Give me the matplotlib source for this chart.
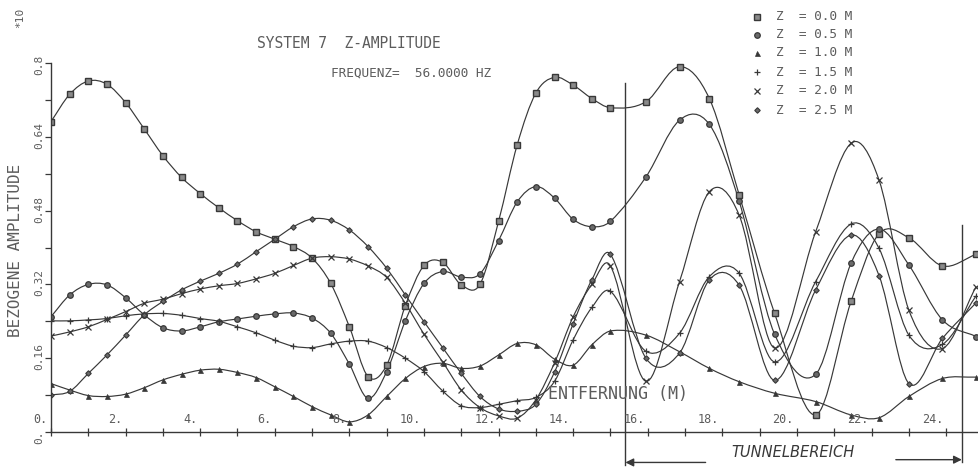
import matplotlib
matplotlib.use('Agg')
import matplotlib.pyplot as plt
import numpy as np
from matplotlib.path import Path
from matplotlib.patches import PathPatch
from matplotlib.lines import Line2D

INK = '#383838'
TXT = '#5c5c5c'
MONO = 'DejaVu Sans Mono'

W, H = 979, 468

# measuring positions along the track (m)
x_pos = [0.0, 0.5, 1.0, 1.5, 2.0, 2.5, 3.0, 3.5, 4.0, 4.5, 5.0, 5.5, 6.0, 6.5,
         7.0, 7.5, 8.0, 8.5, 9.0, 9.5, 10.0, 10.5, 11.0, 11.5, 12.0, 12.5,
         13.0, 13.5, 14.0, 14.5, 15.0,
         15.95, 16.85, 17.65, 18.45, 19.4, 20.5, 21.45, 22.2, 23.0, 23.9, 24.8]

amp_z00 = [0.673, 0.732, 0.761, 0.754, 0.714, 0.657, 0.599, 0.552, 0.517, 0.486,
           0.458, 0.434, 0.418, 0.402, 0.377, 0.322, 0.228, 0.120, 0.145, 0.274,
           0.361, 0.368, 0.319, 0.320, 0.457, 0.623, 0.735, 0.769, 0.752, 0.723,
           0.703,
           0.716, 0.792, 0.723, 0.514, 0.257, 0.037, 0.283, 0.430, 0.421, 0.360, 0.385]
amp_z05 = [0.250, 0.297, 0.320, 0.319, 0.291, 0.254, 0.226, 0.219, 0.228, 0.239,
           0.245, 0.251, 0.256, 0.258, 0.247, 0.214, 0.147, 0.073, 0.131, 0.241,
           0.322, 0.348, 0.336, 0.343, 0.415, 0.499, 0.532, 0.507, 0.461, 0.445,
           0.457,
           0.553, 0.676, 0.667, 0.500, 0.212, 0.125, 0.366, 0.440, 0.362, 0.243, 0.207]
amp_z10 = [0.105, 0.091, 0.079, 0.077, 0.082, 0.096, 0.113, 0.125, 0.134, 0.136,
           0.129, 0.118, 0.098, 0.077, 0.055, 0.037, 0.022, 0.037, 0.077, 0.116,
           0.142, 0.149, 0.138, 0.143, 0.167, 0.192, 0.189, 0.158, 0.145, 0.189,
           0.219,
           0.210, 0.174, 0.138, 0.109, 0.084, 0.066, 0.037, 0.031, 0.077, 0.116, 0.119]
amp_z15 = [0.241, 0.241, 0.243, 0.246, 0.252, 0.256, 0.257, 0.253, 0.246, 0.240,
           0.228, 0.215, 0.199, 0.186, 0.183, 0.191, 0.197, 0.197, 0.183, 0.160,
           0.131, 0.089, 0.057, 0.053, 0.060, 0.068, 0.075, 0.110, 0.200, 0.270,
           0.305,
           0.175, 0.214, 0.337, 0.344, 0.152, 0.326, 0.451, 0.398, 0.210, 0.190, 0.295]
amp_z20 = [0.208, 0.217, 0.228, 0.244, 0.261, 0.279, 0.288, 0.300, 0.310, 0.317,
           0.322, 0.332, 0.344, 0.361, 0.377, 0.380, 0.375, 0.360, 0.335, 0.279,
           0.212, 0.152, 0.091, 0.053, 0.035, 0.030, 0.070, 0.150, 0.250, 0.320,
           0.360,
           0.110, 0.326, 0.521, 0.470, 0.182, 0.434, 0.626, 0.546, 0.264, 0.181, 0.315]
amp_z25 = [0.080, 0.088, 0.127, 0.167, 0.210, 0.254, 0.283, 0.308, 0.327, 0.344,
           0.364, 0.391, 0.418, 0.445, 0.462, 0.459, 0.438, 0.402, 0.355, 0.297,
           0.239, 0.183, 0.127, 0.077, 0.050, 0.045, 0.060, 0.130, 0.235, 0.330,
           0.385,
           0.160, 0.171, 0.330, 0.318, 0.112, 0.308, 0.427, 0.339, 0.105, 0.203, 0.280]

z_labels = ['Z  = 0.0 M', 'Z  = 0.5 M', 'Z  = 1.0 M',
            'Z  = 1.5 M', 'Z  = 2.0 M', 'Z  = 2.5 M']
amps = [amp_z00, amp_z05, amp_z10, amp_z15, amp_z20, amp_z25]
marker_style = [dict(marker='s', ms=4.2, mfc='#8a8a8a', mec=INK, mew=1.0),
                dict(marker='o', ms=4.0, mfc='#6a6a6a', mec=INK, mew=0.9),
                dict(marker='^', ms=3.6, mfc=INK, mec=INK, mew=0.5),
                dict(marker='+', ms=4.5, mfc=INK, mec=INK, mew=0.9),
                dict(marker='x', ms=3.8, mfc=INK, mec=INK, mew=0.9),
                dict(marker='D', ms=2.8, mfc='#6a6a6a', mec=INK, mew=0.8)]


def spline_path(xs, ys):
    # smooth plotter-like curve through the measured points (cubic Hermite as Bezier)
    xs = np.asarray(xs, float)
    ys = np.asarray(ys, float)
    m = np.empty_like(ys)
    m[1:-1] = (ys[2:] - ys[:-2]) / (xs[2:] - xs[:-2])
    m[0] = (ys[1] - ys[0]) / (xs[1] - xs[0])
    m[-1] = (ys[-1] - ys[-2]) / (xs[-1] - xs[-2])
    verts = [(xs[0], ys[0])]
    codes = [Path.MOVETO]
    for i in range(len(xs) - 1):
        h = (xs[i + 1] - xs[i]) / 3.0
        verts += [(xs[i] + h, ys[i] + m[i] * h),
                  (xs[i + 1] - h, ys[i + 1] - m[i + 1] * h),
                  (xs[i + 1], ys[i + 1])]
        codes += [Path.CURVE4] * 3
    return Path(verts, codes)


def fx(px):
    return px / W


def fy(py):
    return 1 - py / H


fig = plt.figure(figsize=(W / 100, H / 100), dpi=100)
ax = fig.add_axes([fx(51), fy(432), fx(W - 51), (432 - 63) / H])
ax.set_xlim(0, (W - 51) / 37.3)
ax.set_ylim(0, 0.8)
ax.patch.set_alpha(0)

for yv, st in zip(amps, marker_style):
    ax.add_patch(PathPatch(spline_path(x_pos, yv), fill=False, ec=INK, lw=0.85))
    ax.plot(x_pos, yv, linestyle='none', **st)

for s in ['top', 'right']:
    ax.spines[s].set_visible(False)
for s in ['left', 'bottom']:
    ax.spines[s].set_color(INK)
    ax.spines[s].set_linewidth(1.0)

ax.set_xticks(range(0, 25))
ax.set_yticks(np.arange(0, 0.81, 0.08))
ax.tick_params(axis='x', direction='inout', length=6, width=0.9, color=INK,
               labelbottom=False)
ax.tick_params(axis='y', direction='out', length=4, width=0.9, color=INK,
               labelleft=False)

# tick labels in plotter style
for v in range(0, 25, 2):
    ax.annotate(f'{v}.', xy=(v, 0), xytext=(-3, 6), textcoords='offset pixels',
                ha='right', va='bottom', fontsize=8.5, family=MONO, color=TXT,
                annotation_clip=False)
for v in [0.0, 0.16, 0.32, 0.48, 0.64, 0.8]:
    lab = '0.' if v == 0 else f'{v:g}'
    ax.annotate(lab, xy=(0, v), xytext=(-12, -12), textcoords='offset pixels',
                ha='center', va='bottom', rotation=90, fontsize=8, family=MONO,
                color=TXT, annotation_clip=False)

# tunnel section
ax.plot([15.4, 15.4], [-0.072, 0.757], color=INK, lw=1.0, clip_on=False)
ax.plot([24.42, 24.42], [-0.065, 0.449], color=INK, lw=1.0, clip_on=False)
ax.annotate('', xy=(15.4, -0.066), xytext=(17.55, -0.066),
            arrowprops=dict(arrowstyle='-|>', color=INK, lw=1.0,
                            mutation_scale=12, shrinkA=0, shrinkB=0),
            annotation_clip=False)
ax.annotate('', xy=(24.42, -0.060), xytext=(22.65, -0.060),
            arrowprops=dict(arrowstyle='-|>', color=INK, lw=1.0,
                            mutation_scale=12, shrinkA=0, shrinkB=0),
            annotation_clip=False)
ax.text(19.9, -0.044, 'TUNNELBEREICH', ha='center', va='center',
        fontsize=10.5, style='italic', color=INK, clip_on=False)

ax.text(15.19, 0.082, 'ENTFERNUNG (M)', ha='center', va='center',
        fontsize=12, family=MONO, color=TXT)

# titles and labels
fig.text(fx(349), fy(43), 'SYSTEM 7  Z-AMPLITUDE', ha='center', va='center',
         fontsize=10.5, family=MONO, color=TXT)
fig.text(fx(411), fy(73), 'FREQUENZ=  56.0000 HZ', ha='center', va='center',
         fontsize=9.2, family=MONO, color=TXT)
fig.text(fx(16), fy(250), 'BEZOGENE AMPLITUDE', ha='center', va='center',
         rotation=90, fontsize=11.5, family=MONO, color=TXT)
fig.text(fx(20), fy(18), '*10', ha='center', va='center', rotation=90,
         fontsize=8, family=MONO, color=TXT)

# legend
for i, (lab, st) in enumerate(zip(z_labels, marker_style)):
    yy = [17, 35, 53, 72, 91, 110][i]
    fig.add_artist(Line2D([fx(757)], [fy(yy)], transform=fig.transFigure,
                          linestyle='none', **st))
    fig.text(fx(776), fy(yy), lab, ha='left', va='center', fontsize=9.2,
             family=MONO, color=TXT)

fig.savefig('out.png', dpi=100)
